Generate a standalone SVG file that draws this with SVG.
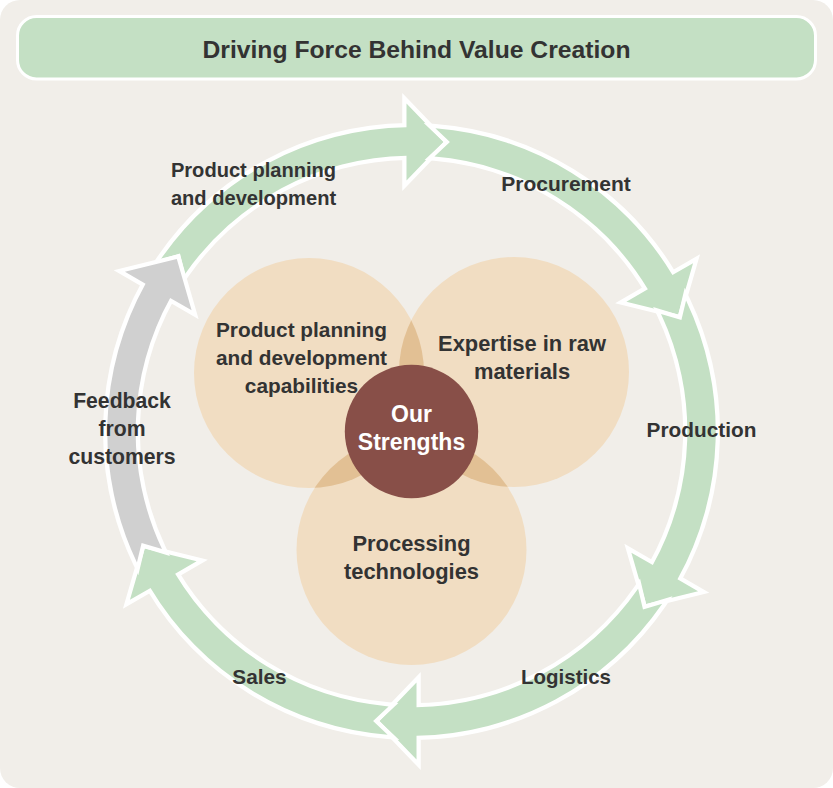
<svg xmlns="http://www.w3.org/2000/svg" width="833" height="788" viewBox="0 0 833 788">
<style>
text{font-family:"Liberation Sans",Arial,sans-serif;font-weight:700;font-size:20.800px;fill:#333;text-anchor:middle}
.arrow{fill:#c4e0c4;stroke:#fff;stroke-width:8.500;stroke-miterlimit:10;paint-order:stroke}
.grey{fill:#d0d0d0}
.cap{fill:#f1ddc2}
.lap{fill:#e2c094}
.wide{font-size:21.900px}
.narrow{font-size:20.100px}
.core{font-size:23px;fill:#fff}
</style>
<defs>
<path id="arrow" d="M406.500,127.300L406.500,103.500L443.500,142L406.500,180.500L406.500,155.700A275.800,275.800 0 0 0 184.900,274.200L180,253.500L160.800,259.200A304.200,304.200 0 0 1 406.500,127.300Z"/>
<clipPath id="clipL"><circle cx="309" cy="373" r="115"/></clipPath>
<clipPath id="clipR"><circle cx="514" cy="372" r="115"/></clipPath>
</defs>
<rect width="833" height="788" fill="#fff"/>
<rect width="833" height="788" rx="20" fill="#f1eee9"/>
<g id="title">
<rect x="17.500" y="16.500" width="798" height="62.500" rx="19" fill="#c4e0c4" stroke="#fff" stroke-width="3"/>
<text x="416.500" y="58" style="font-size:24.700px">Driving Force Behind Value Creation</text>
</g>
<g id="connectors">
<use href="#arrow" class="arrow"/>
<use href="#arrow" class="arrow" transform="rotate(60 411.5 431.5)"/>
<use href="#arrow" class="arrow" transform="rotate(120 411.5 431.5)"/>
<use href="#arrow" class="arrow" transform="rotate(180 411.5 431.5)"/>
<use href="#arrow" class="arrow" transform="rotate(240 411.5 431.5)"/>
<use href="#arrow" class="arrow grey" transform="rotate(300 411.5 431.5)"/>
</g>
<g id="capabilities">
<circle class="cap" cx="309" cy="373" r="115"/>
<circle class="cap" cx="514" cy="372" r="115"/>
<circle class="cap" cx="411.500" cy="550" r="115"/>
<circle class="lap" cx="514" cy="372" r="115" clip-path="url(#clipL)"/>
<circle class="lap" cx="411.500" cy="550" r="115" clip-path="url(#clipL)"/>
<circle class="lap" cx="411.500" cy="550" r="115" clip-path="url(#clipR)"/>
<text x="301.500" y="337">Product planning</text>
<text x="301.500" y="365">and development</text>
<text x="301.500" y="393">capabilities</text>
<text class="wide" x="522" y="351">Expertise in raw</text>
<text class="wide" x="522" y="379">materials</text>
<text class="wide" x="411.500" y="551">Processing</text>
<text class="wide" x="411.500" y="579">technologies</text>
</g>
<g id="core">
<circle cx="411.500" cy="431.500" r="66.700" fill="#884f48"/>
<text class="core" x="411.500" y="421.500">Our</text>
<text class="core" x="411.500" y="450">Strengths</text>
</g>
<g id="labels">
<text class="narrow" x="253.500" y="177">Product planning</text>
<text class="narrow" x="253.500" y="205">and development</text>
<text x="566" y="191" style="font-size:21px">Procurement</text>
<text x="701.500" y="437">Production</text>
<text x="566" y="684" style="font-size:20.500px">Logistics</text>
<text x="259.500" y="684">Sales</text>
<text x="122" y="408" style="font-size:21.200px">Feedback</text>
<text x="122" y="436" style="font-size:21.200px">from</text>
<text x="122" y="464" style="font-size:21.200px">customers</text>
</g>
</svg>
